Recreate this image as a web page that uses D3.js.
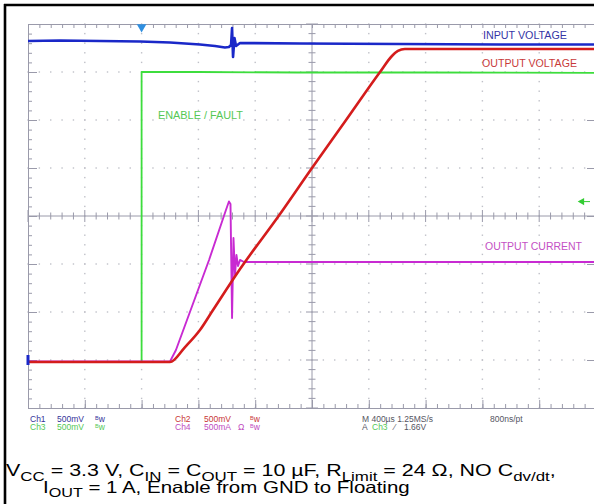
<!DOCTYPE html>
<html><head><meta charset="utf-8">
<script src="https://cdn.jsdelivr.net/npm/d3@7"></script>
<style>html,body{margin:0;padding:0;background:#fff;}svg{display:block;}</style>
</head><body>
<svg id="c" width="594" height="504"></svg>
<script>
// ---- data (time in µs, trigger at 0; volts / amps) ----
const timeDomain = [-800, 3200];          // 400 µs/div, 10 div
const divDomain = [-4, 4];                 // 8 vertical divisions
const groundDiv = -3;                      // ground reference position (div)
const voltsPerDiv = 0.5;                   // 500 mV/div, 500 mA/div

const vinT = [-800,-575,-293,-11,200,411,517,587,615,630,637,644,654,665,693,1115,1819,2524,3200];
const vinV = [3.323,3.328,3.323,3.318,3.307,3.286,3.271,3.255,3.26,3.281,3.458,3.156,3.354,3.271,3.302,3.297,3.292,3.286,3.286];

const voutT = [-800,200,306,411,503,679,975,1200,1440,1679,1763,1805,1854,3200];
const voutV = [-0.021,-0.021,0.135,0.3125,0.521,0.917,1.521,2.0,2.5,3.0,3.167,3.219,3.24,3.24];

const enT = [-800,0,0,400,1100,2000,3200];
const enV = [-0.021,-0.021,3.0,3.0,2.995,2.995,2.99];

const ioutT = [-800,200,242,475,594,615,626,637,647,658,668,679,693,721,3200];
const ioutA = [-0.016,-0.016,0.104,1.042,1.5625,1.651,1.625,0.4375,1.271,0.885,1.094,0.979,1.042,1.021,1.021];

const traceLabels = ["INPUT VOLTAGE","OUTPUT VOLTAGE","ENABLE / FAULT","OUTPUT CURRENT"];
const statusRow1 = ["Ch1","500mV","Ch2","500mV","M 400µs 1.25MS/s","800ns/pt"];
const statusRow2 = ["Ch3","500mV","Ch4","500mA","Ω","A","Ch3","⁄","1.66V"];

// ---- layout ----
const svg = d3.select("#c");
const L = 28, R = 596, T = 24, B = 408;
const x = d3.scaleLinear().domain(timeDomain).range([L, R]);
const y = d3.scaleLinear().domain(divDomain).range([B, T]);
const yv = v => y(groundDiv + v / voltsPerDiv);

// outer border
svg.append("line").attr("x1",5).attr("x2",5).attr("y1",4).attr("y2",504).attr("stroke","#000").attr("stroke-width",2.6);
svg.append("line").attr("x1",4).attr("x2",594).attr("y1",5).attr("y2",5).attr("stroke","#000").attr("stroke-width",2.6);

const grid = svg.append("g");
const gridCol = "#9a9aaa";
const tMinor = d3.range(timeDomain[0], timeDomain[1] + 1, 80);
const tMajor = d3.range(timeDomain[0], timeDomain[1] + 1, 400);
const dMinor = d3.range(-4, 4.001, 0.2).map(v => Math.round(v*10)/10);
const dMajor = d3.range(-4, 5, 1);

// dotted grid
tMajor.slice(1, -1).filter(t => t !== 1200).forEach(t => {
  dMinor.forEach(d => grid.append("rect").attr("x", x(t)-0.7).attr("y", y(d)-0.7).attr("width",1.4).attr("height",1.4).attr("fill","#bfc0c8"));
});
dMajor.slice(1, -1).filter(d => d !== 0).forEach(d => {
  tMinor.forEach(t => grid.append("rect").attr("x", x(t)-0.7).attr("y", y(d)-0.7).attr("width",1.4).attr("height",1.4).attr("fill","#bfc0c8"));
});

// frame axes with inward ticks
function styleAxis(g){ g.selectAll("path,line").attr("stroke", gridCol).attr("stroke-width",1); g.selectAll("text").remove(); }
grid.append("g").attr("transform",`translate(0,${T})`).call(d3.axisTop(x).tickValues(tMinor).tickSize(-4).tickSizeOuter(0)).call(styleAxis);
grid.append("g").attr("transform",`translate(0,${B})`).call(d3.axisBottom(x).tickValues(tMinor).tickSize(-4).tickSizeOuter(0)).call(styleAxis);
grid.append("g").attr("transform",`translate(0,${B})`).call(d3.axisBottom(x).tickValues(tMajor).tickSize(-8).tickSizeOuter(0)).call(styleAxis);
grid.append("g").attr("transform",`translate(${L},0)`).call(d3.axisLeft(y).tickValues(dMinor).tickSize(-4).tickSizeOuter(0)).call(styleAxis);
grid.append("g").attr("transform",`translate(${L},0)`).call(d3.axisLeft(y).tickValues(dMajor).tickSize(-9).tickSizeOuter(0)).call(styleAxis);
grid.append("g").attr("transform",`translate(${R},0)`).call(d3.axisRight(y).tickValues(dMajor).tickSize(-9).tickSizeOuter(0)).call(styleAxis);

// centre cross with ticks
const cx = x(1200), cy = y(0);
grid.append("line").attr("x1",L).attr("x2",R).attr("y1",cy).attr("y2",cy).attr("stroke",gridCol);
grid.append("line").attr("x1",cx).attr("x2",cx).attr("y1",T).attr("y2",B).attr("stroke",gridCol);
tMinor.forEach(t => { const big = (t % 400 === 0); grid.append("line").attr("x1",x(t)).attr("x2",x(t)).attr("y1",cy-(big?6:3.5)).attr("y2",cy+(big?6:3.5)).attr("stroke",gridCol); });
dMinor.forEach(d => { const big = Number.isInteger(d); grid.append("line").attr("y1",y(d)).attr("y2",y(d)).attr("x1",cx-(big?6:3.5)).attr("x2",cx+(big?6:3.5)).attr("stroke",gridCol); });

// traces
const plot = svg.append("g");
function trace(ts, vs, col, w, curve){
  const ln = d3.line().x(d => x(d[0])).y(d => yv(d[1])).curve(curve || d3.curveLinear);
  plot.append("path").datum(ts.map((t,i)=>[t,vs[i]])).attr("d",ln).attr("fill","none").attr("stroke",col).attr("stroke-width",w).attr("stroke-linejoin","round");
}
trace(enT, enV, "#3ddd3d", 1.8);
trace(vinT, vinV, "#1a28c8", 2.6);
trace(ioutT, ioutA, "#c82ad2", 1.9);
trace(voutT, voutV, "#d41c1c", 2.6, d3.curveMonotoneX);

// markers
plot.append("path").attr("d", d3.symbol(d3.symbolTriangle, 40)()).attr("transform",`translate(${x(0)},${T+3}) rotate(180)`).attr("fill","#2f8fe0");
plot.append("rect").attr("x",L-1.5).attr("y",yv(0)-5).attr("width",3).attr("height",10).attr("fill","#1a28c8");
plot.append("path").attr("d", d3.symbol(d3.symbolTriangle, 24)()).attr("transform",`translate(${R-14},${y(0.3)}) rotate(-90)`).attr("fill","#33cc33");
plot.append("line").attr("x1",R-12).attr("x2",R-6).attr("y1",y(0.3)).attr("y2",y(0.3)).attr("stroke","#33cc33");

// trace labels
const lab = svg.append("g").attr("font-family","Liberation Sans, Arial, sans-serif").attr("font-size",10);
function tl(txt, xx, yy, len, col){ lab.append("text").attr("x",xx).attr("y",yy).attr("fill",col).attr("textLength",len).attr("lengthAdjust","spacingAndGlyphs").text(txt); }
tl(traceLabels[0],483,39,84,"#3535a5");
tl(traceLabels[1],482,67,95,"#c83a3a");
tl(traceLabels[2],158,119,85,"#55c855");
tl(traceLabels[3],485,250,97,"#c450c4");

// status lines
const st = svg.append("g").attr("font-family","Liberation Sans, Arial, sans-serif").attr("font-size",8.5);
function s(txt, xx, yy, col){ st.append("text").attr("x",xx).attr("y",yy).attr("fill",col).text(txt); }
function bw(xx, yy, col){ const t = st.append("text").attr("x",xx).attr("y",yy).attr("fill",col); t.append("tspan").attr("font-size",5.5).attr("dy",-2).text("B"); t.append("tspan").attr("dy",2).text("w"); }
const c1="#34349a", c2="#c83636", c3="#55c855", c4="#c04cc0", cm="#55555f";
const r1 = 422, r2 = 429.5;
s(statusRow1[0],30,r1,c1); s(statusRow1[1],57,r1,c1); bw(95,r1,c1);
s(statusRow1[2],175,r1,c2); s(statusRow1[3],204,r1,c2); bw(250,r1,c2);
s(statusRow1[4],362,r1,cm); s(statusRow1[5],490,r1,cm);
s(statusRow2[0],30,r2,c3); s(statusRow2[1],57,r2,c3); bw(95,r2,c3);
s(statusRow2[2],175,r2,c4); s(statusRow2[3],204,r2,c4); s(statusRow2[4],238,r2,c4); bw(250,r2,c4);
s(statusRow2[5],362,r2,cm); s(statusRow2[6],372,r2,c3); s(statusRow2[7],394,r2,cm); s(statusRow2[8],404,r2,cm);

// caption (stretched horizontally to match the reference widths)
const cap = svg.append("g").attr("font-family","Liberation Sans, Arial, sans-serif").attr("font-size",16.5).attr("fill","#000");
function captionLine(parts, x0, yb, targetW){
  const g = cap.append("g");
  const t = g.append("text").attr("x",0).attr("y",0);
  let down = false;
  parts.forEach(p => {
    if (p.sub) { t.append("tspan").attr("font-size",13).attr("dy",4.5).text(p.sub); down = true; }
    else { const ts = t.append("tspan").text(p.t); if (down) { ts.attr("dy",-4.5); down = false; } }
  });
  const w = t.node().getComputedTextLength();
  g.attr("transform",`translate(${x0},${yb}) scale(${targetW / w},1)`);
}
captionLine([{t:"V"},{sub:"CC"},{t:" = 3.3 V, C"},{sub:"IN"},{t:" = C"},{sub:"OUT"},{t:" = 10 µF, R"},{sub:"Limit"},{t:" = 24 Ω, NO C"},{sub:"dv/dt"},{t:","}], 6, 476, 550);
captionLine([{t:"I"},{sub:"OUT"},{t:" = 1 A, Enable from GND to Floating"}], 43, 492.5, 367);
</script>
</body></html>
